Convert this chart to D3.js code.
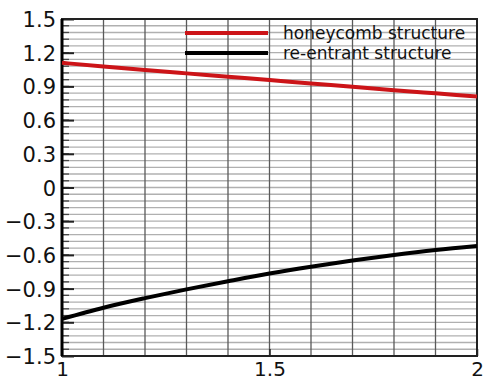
<!DOCTYPE html>
<html>
<head>
<meta charset="utf-8">
<script src="https://cdn.jsdelivr.net/npm/d3@7"></script>
<style>
  body { margin: 0; background: #fff; }
  svg { display: block; }
</style>
</head>
<body>
<svg id="chart"></svg>
<script>
// values
var xValues = [1, 1.1, 1.2, 1.3, 1.4, 1.5, 1.6, 1.7, 1.8, 1.9, 2];
var honeycomb = [1.11, 1.077, 1.046, 1.016, 0.986, 0.956, 0.926, 0.896, 0.866, 0.838, 0.81];
var reentrant = [-1.17, -1.07, -0.985, -0.907, -0.835, -0.766, -0.705, -0.65, -0.6, -0.556, -0.52];
var seriesNames = ["honeycomb structure", "re-entrant structure"];
var seriesColors = ["#cc1418", "#000000"];
var xTickLabels = [1, 1.5, 2];
var yTickLabels = [-1.5, -1.2, -0.9, -0.6, -0.3, 0, 0.3, 0.6, 0.9, 1.2, 1.5];

function drawGraphic() {
  width = 484
  height = 380

  margin = ({top: 19, right: 7, bottom: 24, left: 62})

  const svg = d3.select("#chart")
    .attr("width", width)
    .attr("height", height)

  x = d3.scaleLinear()
    .domain([1, 2])
    .range([margin.left, width - margin.right])

  y = d3.scaleLinear()
    .domain([-1.5, 1.5])
    .range([height - margin.bottom, margin.top])

  // grid
  const grid = svg.append("g")
  grid.selectAll("line.h")
    .data(d3.range(1, 50).map(i => -1.5 + i * 0.06))
    .enter().append("line")
    .attr("x1", x(1)).attr("x2", x(2))
    .attr("y1", d => y(d)).attr("y2", d => y(d))
    .attr("stroke", "#b0b0b0")
    .attr("stroke-width", 1.3)
  grid.selectAll("line.v")
    .data(d3.range(1, 10).map(i => 1 + i * 0.1))
    .enter().append("line")
    .attr("y1", y(-1.5)).attr("y2", y(1.5))
    .attr("x1", d => x(d)).attr("x2", d => x(d))
    .attr("stroke", "#5a5a5a")
    .attr("stroke-width", 1.3)

  // minor ticks on left axis
  svg.append("g").selectAll("line")
    .data(d3.range(0, 51).map(i => -1.5 + i * 0.06))
    .enter().append("line")
    .attr("x1", x(1)).attr("x2", x(1) + 7)
    .attr("y1", d => y(d)).attr("y2", d => y(d))
    .attr("stroke", "#444")
    .attr("stroke-width", 1.3)

  xAxis = g => g
    .attr("transform", `translate(0,${height - margin.bottom})`)
    .call(d3.axisBottom(x).tickValues(xTickLabels).tickSize(-7).tickFormat(d3.format("")))
    .call(g => g.select(".domain").remove())
    .call(g => g.selectAll(".tick line").attr("stroke", "#222").attr("stroke-width", 1.5))
    .call(g => g.selectAll(".tick text")
      .attr("y", 20).attr("dy", 0)
      .attr("fill", "#111")
      .attr("font-family", "DejaVu Sans")
      .attr("font-size", 20))

  yAxis = g => g
    .attr("transform", `translate(${margin.left},0)`)
    .call(d3.axisLeft(y).tickValues(yTickLabels).tickSize(-12).tickFormat(d3.format("")))
    .call(g => g.select(".domain").remove())
    .call(g => g.selectAll(".tick line").attr("stroke", "#222").attr("stroke-width", 2))
    .call(g => g.selectAll(".tick text")
      .attr("x", -6).attr("dy", "0.36em")
      .attr("fill", "#111")
      .attr("font-family", "DejaVu Sans")
      .attr("font-size", 21))

  svg.append("g").call(xAxis)
  svg.append("g").call(yAxis)

  // frame
  svg.append("rect")
    .attr("x", x(1)).attr("y", y(1.5))
    .attr("width", x(2) - x(1)).attr("height", y(-1.5) - y(1.5))
    .attr("fill", "none")
    .attr("stroke", "#222")
    .attr("stroke-width", 2)
  svg.append("line")
    .attr("x1", x(1)).attr("x2", x(1))
    .attr("y1", y(1.5)).attr("y2", y(-1.5))
    .attr("stroke", "#000")
    .attr("stroke-width", 3)

  line = d3.line()
    .x((d, i) => x(xValues[i]))
    .y(d => y(d))
    .curve(d3.curveMonotoneX)

  const series = [honeycomb, reentrant]
  svg.append("g")
    .attr("fill", "none")
    .attr("stroke-width", 4)
    .attr("stroke-linejoin", "round")
    .selectAll("path")
    .data(series)
    .enter().append("path")
    .attr("d", d => line(d))
    .attr("stroke", (d, i) => seriesColors[i])

  // legend
  const legend = svg.append("g")
    .attr("transform", "translate(185,33)")
  const item = legend.selectAll("g")
    .data(seriesNames)
    .enter().append("g")
    .attr("transform", (d, i) => `translate(0,${i * 20})`)
  item.append("line")
    .attr("x1", 0).attr("x2", 83)
    .attr("stroke", (d, i) => seriesColors[i])
    .attr("stroke-width", 4)
  item.append("text")
    .attr("x", 98)
    .attr("dy", "0.35em")
    .attr("font-family", "DejaVu Sans")
    .attr("font-size", 17)
    .attr("fill", "#111")
    .text(d => d)
}

drawGraphic()
</script>
</body>
</html>
